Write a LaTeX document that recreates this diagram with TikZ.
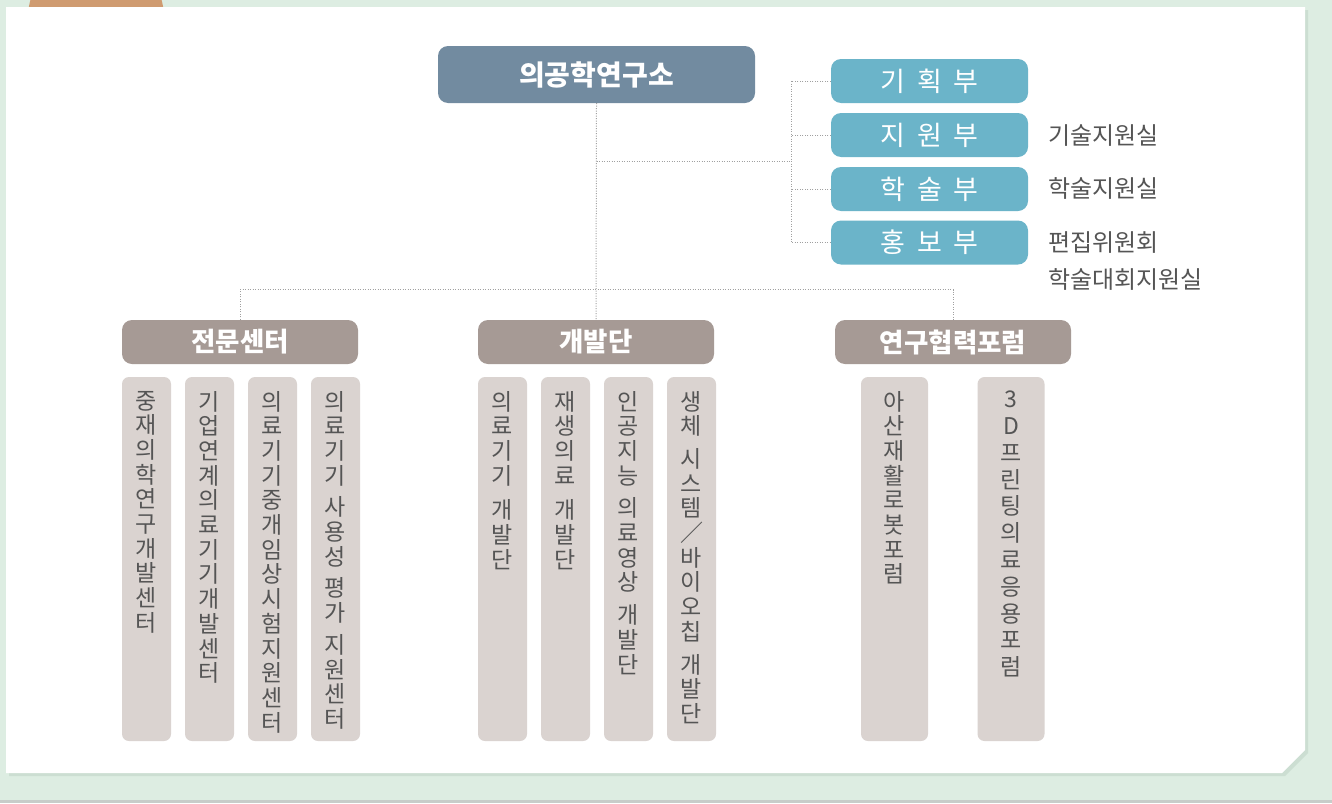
\documentclass[tikz,border=0pt]{standalone}
\usepackage{fontspec}
\setmainfont{Noto Sans CJK KR}
\usetikzlibrary{calc}
\definecolor{bgc}{HTML}{DDEDE2}
\definecolor{shc}{HTML}{CCDED2}
\definecolor{orc}{HTML}{CF9B70}
\definecolor{linec}{HTML}{C8CCC9}
\definecolor{mainc}{HTML}{728BA0}
\definecolor{deptc}{HTML}{6BB4C9}
\definecolor{catc}{HTML}{A69A95}
\definecolor{colc}{HTML}{DAD3D0}
\definecolor{txtc}{HTML}{555555}
\definecolor{dotc}{HTML}{A0A0A0}
\begin{document}
\begin{tikzpicture}[x=1pt,y=-1pt,
  dotline/.style={draw=dotc, line width=1pt, dash pattern=on 1pt off 1.5pt},
  mainbox/.style={fill=mainc, rounded corners=10pt, minimum width=317pt, minimum height=57pt, text=white, inner sep=0pt, font=\bfseries\fontsize{28}{32}\selectfont},
  deptbox/.style={fill=deptc, rounded corners=10pt, minimum width=197pt, minimum height=44pt, text=white, inner sep=0pt, font=\fontsize{27}{30}\selectfont},
  catbox/.style={fill=catc, rounded corners=10pt, minimum width=236pt, minimum height=44pt, text=white, inner sep=0pt, font=\bfseries\fontsize{26.5}{30}\selectfont},
  colbox/.style={fill=colc, rounded corners=7pt, minimum width=49pt, minimum height=364pt, inner sep=0pt},
  widecol/.style={colbox, minimum width=67pt},
  vtext/.style={anchor=north, inner sep=0pt, align=center, text=txtc, yshift=-14pt, font=\fontsize{23}{24.7}\selectfont},
  vwide/.style={vtext, font=\fontsize{23}{26.8}\selectfont},
  side/.style={anchor=west, inner sep=0pt, text=txtc, font=\fontsize{24}{28}\selectfont}
]
\useasboundingbox (0,0) rectangle (1332,803);
% background
\fill[bgc] (0,0) rectangle (1332,803);
\fill[linec] (0,800) rectangle (1332,803);
\fill[orc] (96,18) circle (68pt);
\fill[shc] (9,10) -- (1308,10) -- (1308,753) -- (1285,776) -- (9,776) -- cycle;
\fill[white] (6,7) -- (1305,7) -- (1305,750) -- (1282,773) -- (6,773) -- cycle;

% top
\node[mainbox] (main) at (596.5,74.5) {의공학연구소};
\node[deptbox] (d1) at (929.5,81) {기\hspace{11.5pt}획\hspace{11.5pt}부};
\node[deptbox] (d2) at (929.5,135) {지\hspace{11.5pt}원\hspace{11.5pt}부};
\node[deptbox] (d3) at (929.5,189) {학\hspace{11.5pt}술\hspace{11.5pt}부};
\node[deptbox] (d4) at (929.5,242.5) {홍\hspace{11.5pt}보\hspace{11.5pt}부};
\node[side] (s2) at (1048,135.5) {기술지원실};
\node[side] (s3) at (1048,188.5) {학술지원실};
\node[side] (s4) at (1048,242.5) {편집위원회};
\node[side] (s5) at (1048,279.5) {학술대회지원실};

% categories
\node[catbox] (cat1) at (240,342) {전문센터};
\node[catbox] (cat2) at (596,342) {개발단};
\node[catbox] (cat3) at (953,342) {연구협력포럼};

% connectors
\coordinate (hub) at (596.5,161);
\coordinate (rbus) at (791,161);
\draw[dotline] (main.south) -- (cat2.north);
\draw[dotline] (hub) -- (rbus);
\draw[dotline] (d1.west) -- (d1.west -| rbus) -- (d4.west -| rbus) -- (d4.west);
\draw[dotline] (d2.west) -- (d2.west -| rbus);
\draw[dotline] (d3.west) -- (d3.west -| rbus);
\draw[dotline] (cat1.north) -- ++(0,-30) -- ($(cat3.north)+(0,-30)$) -- (cat3.north);

% columns
\node[colbox] (a1) at (146.5,559) {};
\node[colbox] (a2) at (209.5,559) {};
\node[colbox] (a3) at (272.5,559) {};
\node[colbox] (a4) at (335.5,559) {};
\node[colbox] (b1) at (502.5,559) {};
\node[colbox] (b2) at (565.5,559) {};
\node[colbox] (b3) at (628.5,559) {};
\node[colbox] (b4) at (691.5,559) {};
\node[widecol] (f1) at (894.5,559) {};
\node[widecol] (f2) at (1011,559) {};

\node[vtext] (ta1) at (a1.north) {중\\재\\의\\학\\연\\구\\개\\발\\센\\터};
\node[vtext] (ta2) at (a2.north) {기\\업\\연\\계\\의\\료\\기\\기\\개\\발\\센\\터};
\node[vtext] (ta3) at (a3.north) {의\\료\\기\\기\\중\\개\\임\\상\\시\\험\\지\\원\\센\\터};
\node[vtext] (ta4) at (a4.north) {의\\료\\기\\기\\[7pt]사\\용\\성\\[7pt]평\\가\\[7pt]지\\원\\센\\터};
\node[vtext] (tb1) at (b1.north) {의\\료\\기\\기\\[10pt]개\\발\\단};
\node[vtext] (tb2) at (b2.north) {재\\생\\의\\료\\[10pt]개\\발\\단};
\node[vtext] (tb3) at (b3.north) {인\\공\\지\\능\\[8pt]의\\료\\영\\상\\[8pt]개\\발\\단};
\node[vtext] (tb4) at (b4.north) {생\\체\\[8pt]시\\스\\템\\／\\바\\이\\오\\칩\\[8pt]개\\발\\단};
\node[vtext] (tf1) at (f1.north) {아\\산\\재\\활\\로\\봇\\포\\럼};
\node[vwide] (tf2) at (f2.north) {3\\D\\프\\린\\팅\\의\\료\\응\\용\\포\\럼};
\end{tikzpicture}
\end{document}
